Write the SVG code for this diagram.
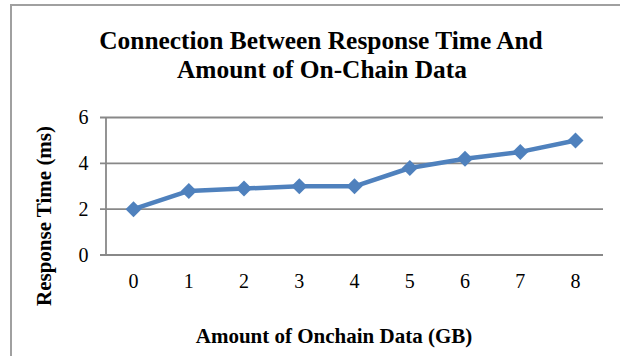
<svg xmlns="http://www.w3.org/2000/svg" width="620" height="356" viewBox="0 0 620 356">
<style>
.title{font-family:"Liberation Serif",serif;font-weight:bold;font-size:25.4px;fill:#000;text-anchor:middle}
.axt{font-family:"Liberation Serif",serif;font-weight:bold;font-size:21px;fill:#000;text-anchor:middle}
.tick{font-family:"Liberation Serif",serif;font-size:20px;fill:#000}
.grid{stroke:#888;stroke-width:1.8;fill:none}
.series{stroke:#4F81BD;stroke-width:4.5;fill:none;stroke-linejoin:round}
.mk{fill:#4F81BD}
</style>
<defs>
<path id="dia" d="M0,-8 L8,0 L0,8 L-8,0 Z"/>
</defs>
<rect x="11" y="5" width="620" height="360" fill="#fff" stroke="#a0a0a0" stroke-width="2"/>
<g id="title">
<text class="title" x="321" y="49">Connection Between Response Time And</text>
<text class="title" x="322" y="78">Amount of On-Chain Data</text>
</g>
<g id="gridlines">
<line class="grid" x1="100" y1="117.5" x2="603" y2="117.5"/>
<line class="grid" x1="100" y1="163.3" x2="603" y2="163.3"/>
<line class="grid" x1="100" y1="209.2" x2="603" y2="209.2"/>
<line class="grid" x1="100" y1="255" x2="603" y2="255"/>
<line class="grid" x1="106" y1="117.5" x2="106" y2="255"/>
</g>
<g id="y-axis-labels" class="tick" text-anchor="end">
<text x="88.5" y="124.3">6</text>
<text x="88.5" y="170.1">4</text>
<text x="88.5" y="216">2</text>
<text x="88.5" y="261.8">0</text>
</g>
<g id="x-axis-labels" class="tick" text-anchor="middle">
<text x="133.5" y="287.5">0</text>
<text x="188.8" y="287.5">1</text>
<text x="244" y="287.5">2</text>
<text x="299.3" y="287.5">3</text>
<text x="354.5" y="287.5">4</text>
<text x="409.8" y="287.5">5</text>
<text x="465" y="287.5">6</text>
<text x="520.3" y="287.5">7</text>
<text x="575.5" y="287.5">8</text>
</g>
<g id="axis-titles">
<text class="axt" x="334" y="343">Amount of Onchain Data (GB)</text>
<text class="axt" transform="translate(51,216) rotate(-90)" x="0" y="0">Response Time (ms)</text>
</g>
<g id="connectors">
<polyline class="series" points="133.5,209.2 188.8,190.9 244,188.6 299.3,186.3 354.5,186.3 409.8,168 465,158.8 520.3,151.9 575.5,140.5"/>
</g>
<g id="markers" class="mk">
<use href="#dia" x="133.5" y="209.2"/>
<use href="#dia" x="188.8" y="190.9"/>
<use href="#dia" x="244" y="188.6"/>
<use href="#dia" x="299.3" y="186.3"/>
<use href="#dia" x="354.5" y="186.3"/>
<use href="#dia" x="409.8" y="168"/>
<use href="#dia" x="465" y="158.8"/>
<use href="#dia" x="520.3" y="151.9"/>
<use href="#dia" x="575.5" y="140.5"/>
</g>
</svg>
